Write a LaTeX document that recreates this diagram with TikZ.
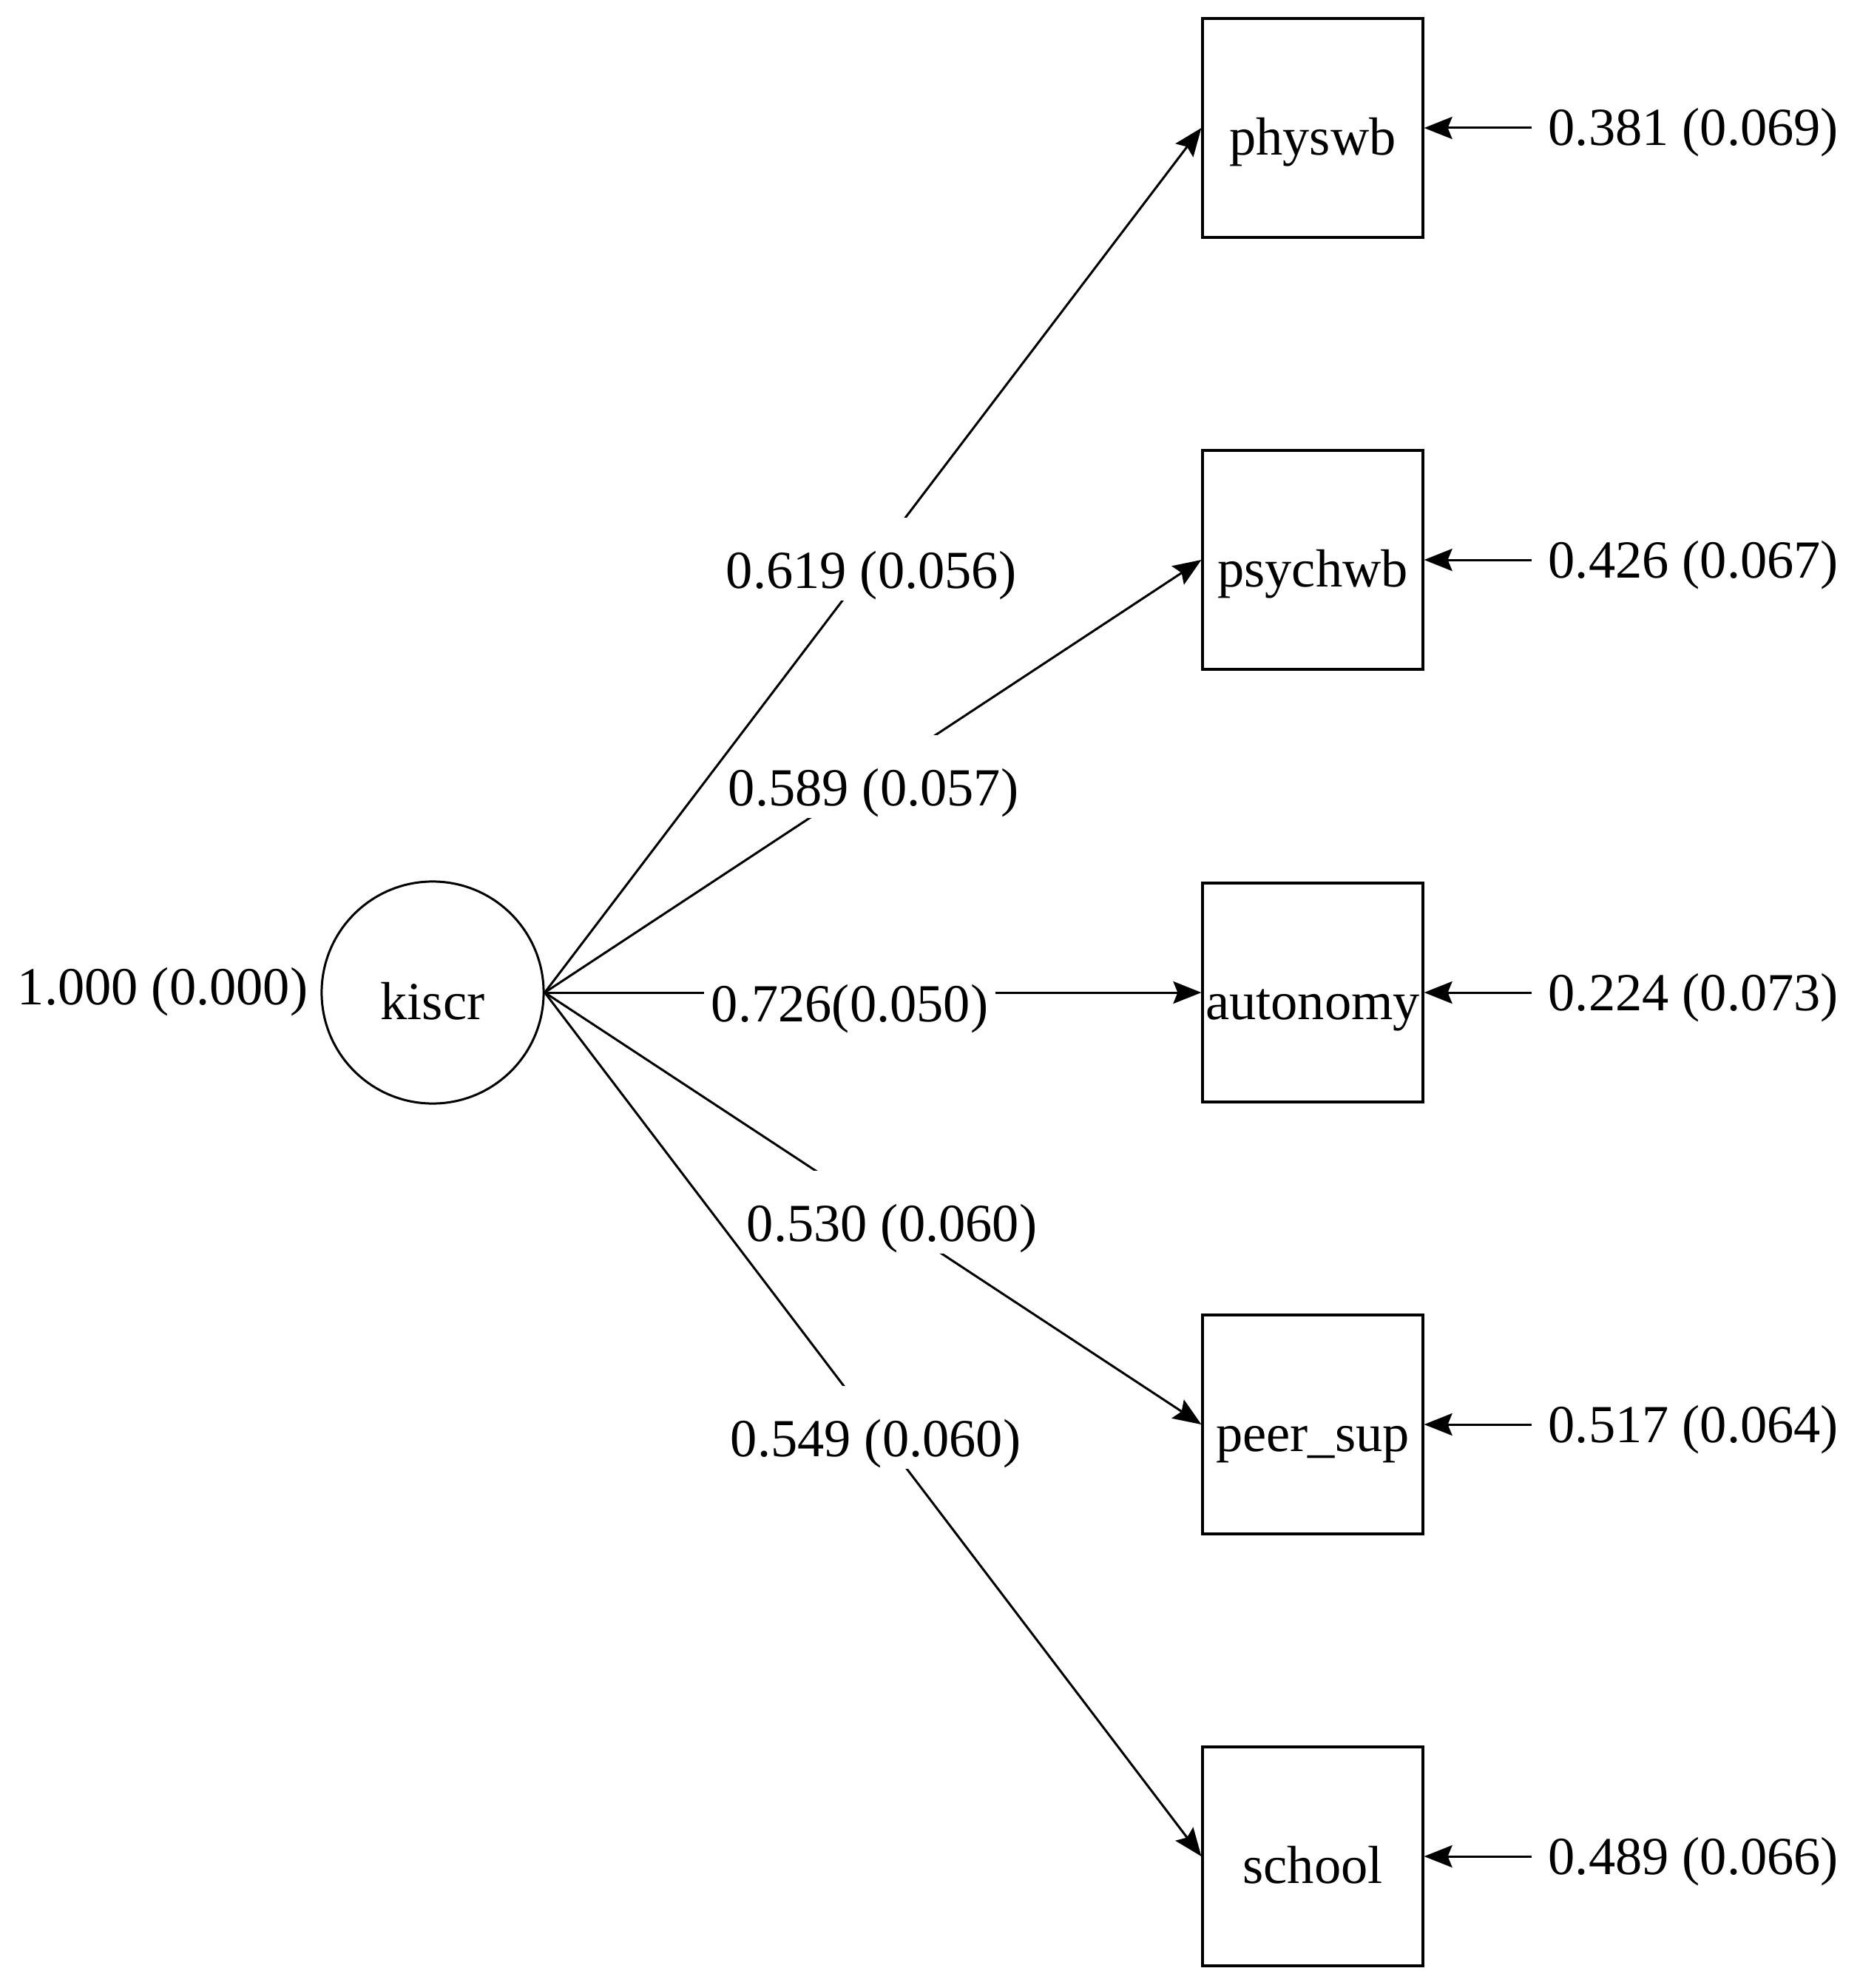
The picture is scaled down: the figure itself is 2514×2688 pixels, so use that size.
\documentclass[tikz,border=0pt]{standalone}
\usepackage{fontspec}
\setmainfont{Liberation Serif}
\usetikzlibrary{arrows.meta}
\begin{document}
\begin{tikzpicture}[x=0.01cm,y=-0.01cm,
  every node/.style={font=\fontsize{20.6pt}{24pt}\selectfont},
  obs/.style={draw, line width=0.04cm, rectangle, minimum width=2.97cm, minimum height=2.95cm, inner sep=0pt, text height=0.9cm, text depth=0.18cm},
  lat/.style={draw, line width=0.03cm, circle, minimum size=3.0cm, inner sep=0pt, text height=0.9cm, text depth=0.18cm},
  plabel/.style={fill=white, inner xsep=0.1cm, inner ysep=0pt, text height=0.95cm, text depth=0.17cm},
  rlabel/.style={inner sep=0pt, anchor=base west},
  conn/.style={line width=0.03cm, -{Stealth[length=0.38cm,width=0.3cm,inset=0.06cm]}}
]
\useasboundingbox (0,0) rectangle (2514,2688);

% latent variable
\node[lat] (kiscr) at (585,1342) {kiscr};

% observed variables
\node[obs] (physwb)   at (1775,173)  {physwb};
\node[obs] (psychwb)  at (1775,757)  {psychwb};
\node[obs] (autonomy) at (1775,1342) {autonomy};
\node[obs] (peersup)  at (1775,1926) {peer\_sup};
\node[obs] (school)   at (1775,2510) {school};

% residual starting points
\coordinate (r1) at (2071,173);
\coordinate (r2) at (2071,757);
\coordinate (r3) at (2071,1342);
\coordinate (r4) at (2071,1926);
\coordinate (r5) at (2071,2510);

% loadings, each followed by its label
\draw[conn] (kiscr.east) -- (psychwb.west);
\node[plabel] (l2) at (1181,1050) {0.589 (0.057)};
\draw[conn] (kiscr.east) -- (physwb.west);
\node[plabel] (l1) at (1178,756)  {0.619 (0.056)};
\draw[conn] (kiscr.east) -- (autonomy.west);
\node[plabel] (l3) at (1149,1342) {0.726(0.050)};
\draw[conn] (kiscr.east) -- (peersup.west);
\node[plabel] (l4) at (1206,1639) {0.530 (0.060)};
\draw[conn] (kiscr.east) -- (school.west);
\node[plabel] (l5) at (1184,1930) {0.549 (0.060)};

% variance of latent
\node[plabel] (l0) at (220,1319) {1.000 (0.000)};

% residual arrows
\draw[conn] (r1) -- (physwb.east);
\draw[conn] (r2) -- (psychwb.east);
\draw[conn] (r3) -- (autonomy.east);
\draw[conn] (r4) -- (peersup.east);
\draw[conn] (r5) -- (school.east);

% residual labels
\node[rlabel] (e1) at (2093,197)  {0.381 (0.069)};
\node[rlabel] (e2) at (2093,781)  {0.426 (0.067)};
\node[rlabel] (e3) at (2093,1366) {0.224 (0.073)};
\node[rlabel] (e4) at (2093,1950) {0.517 (0.064)};
\node[rlabel] (e5) at (2093,2534) {0.489 (0.066)};
\end{tikzpicture}
\end{document}
